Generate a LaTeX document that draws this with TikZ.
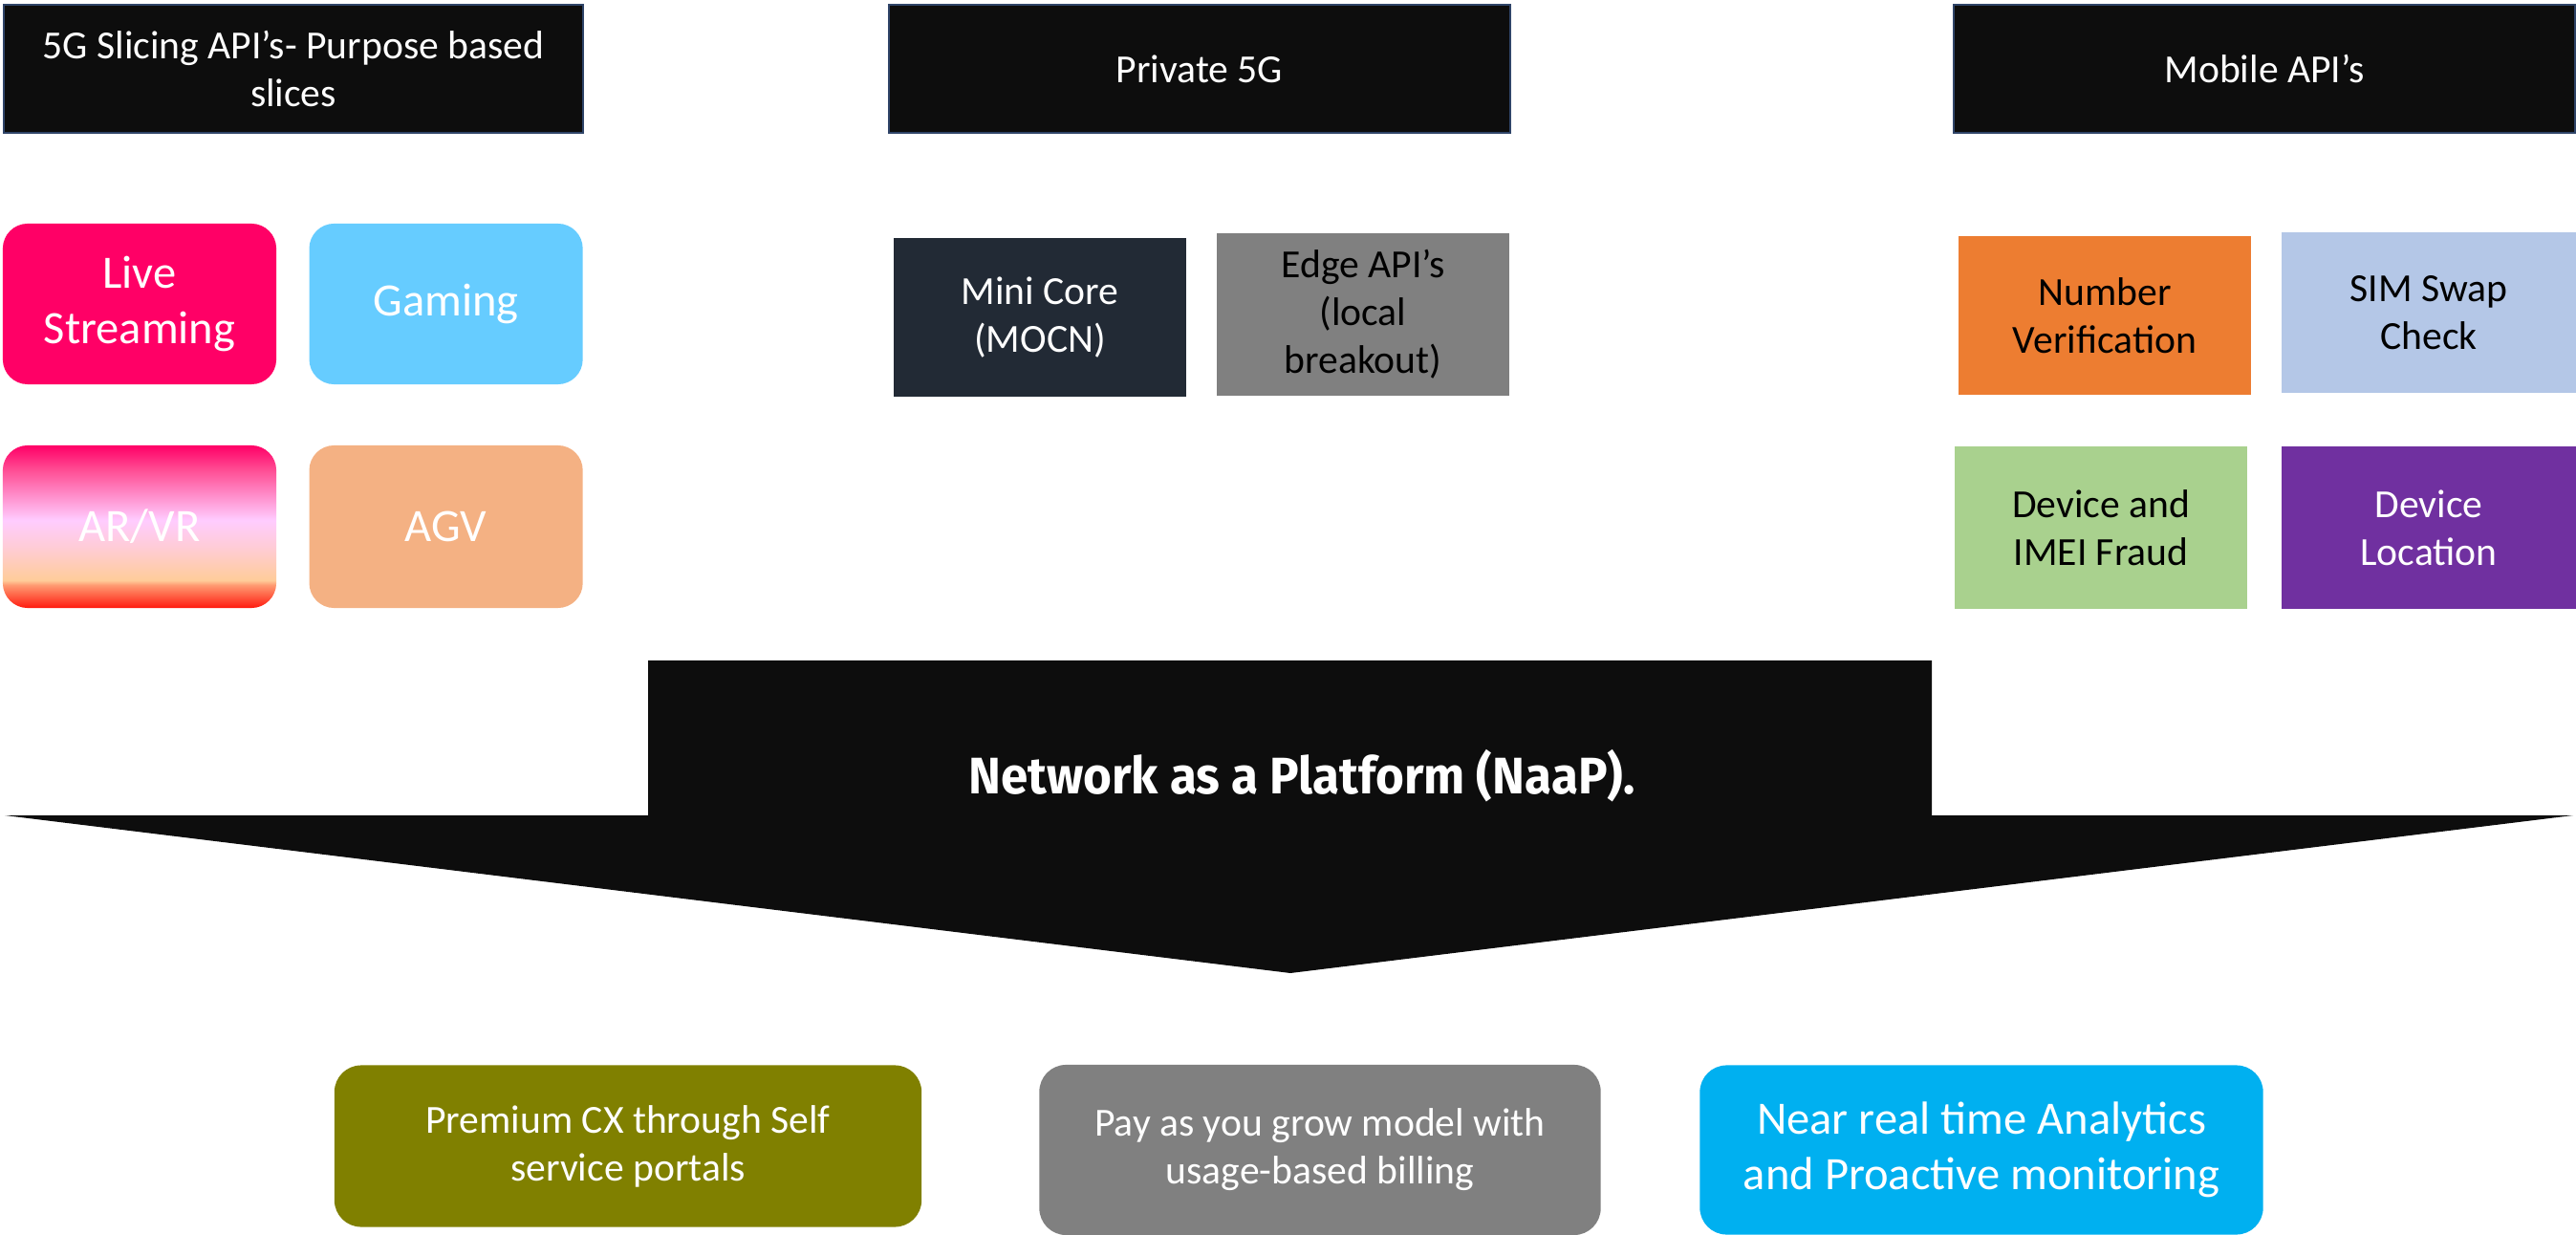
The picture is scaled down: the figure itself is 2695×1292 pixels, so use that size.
\documentclass[tikz,border=0pt]{standalone}
\usepackage{fontspec}
\usepackage{graphicx}
\setmainfont{Carlito}
\newfontfamily\naapfont{Fira Sans}
\usetikzlibrary{positioning}

\definecolor{headerfill}{HTML}{0D0D0D}
\definecolor{headerline}{HTML}{2F4468}
\definecolor{livepink}{HTML}{FF0066}
\definecolor{gamingblue}{HTML}{66CCFF}
\definecolor{agvpeach}{HTML}{F4B183}
\definecolor{corenavy}{HTML}{222A35}
\definecolor{edgegray}{HTML}{808080}
\definecolor{numorange}{HTML}{ED7D31}
\definecolor{simblue}{HTML}{B4C7E7}
\definecolor{fraudgreen}{HTML}{A9D18E}
\definecolor{locpurple}{HTML}{7030A0}
\definecolor{cxolive}{HTML}{808000}
\definecolor{paygray}{HTML}{808080}
\definecolor{nrtcyan}{HTML}{00B0F0}
\definecolor{arvrA}{HTML}{FF1A0F}
\definecolor{arvrB}{HTML}{FF9970}
\definecolor{arvrC}{HTML}{FFCC99}
\definecolor{arvrD}{HTML}{FFCCD5}
\definecolor{arvrE}{HTML}{FFCCFF}
\definecolor{arvrF}{HTML}{FF4D94}
\definecolor{arvrG}{HTML}{FF0066}

\pgfdeclareverticalshading{arvr}{100bp}{
	color(0bp)=(arvrA); color(25bp)=(arvrA); color(32bp)=(arvrB);
	color(33.5bp)=(arvrC); color(43.5bp)=(arvrD); color(52bp)=(arvrE);
	color(67.5bp)=(arvrF); color(75bp)=(arvrG); color(100bp)=(arvrG)}

\tikzstyle{header}=[
	rectangle,
	draw=headerline,
	line width=0.6pt,
	fill=headerfill,
	text=white,
	align=center,
	minimum height=1.34cm,
	font=\fontsize{11.84}{14.2}\selectfont
]
\tikzstyle{slice}=[
	rectangle,
	rounded corners=0.26cm,
	text=white,
	align=center,
	inner sep=0pt,
	minimum width=2.86cm,
	minimum height=1.68cm,
	font=\fontsize{13.8}{16.6}\selectfont
]
\tikzstyle{apibox}=[
	rectangle,
	align=center,
	inner sep=0pt,
	minimum width=3.06cm,
	minimum height=1.67cm,
	font=\fontsize{11.84}{14.2}\selectfont
]
\tikzstyle{benefit}=[
	rectangle,
	rounded corners=0.28cm,
	text=white,
	align=center,
	inner sep=0pt,
	minimum height=1.72cm,
	font=\fontsize{11.84}{14.2}\selectfont
]

\begin{document}
\begin{tikzpicture}[x=0.01cm, y=-0.01cm]
\useasboundingbox (0,0) rectangle (2695,1292);

% headings
\node [header, minimum width=6.05cm] (SlicingHead) at (307,72) {5G Slicing API’s- Purpose based\\slices};
\node [header, minimum width=6.50cm] (PrivateHead) at (1255,72) {Private 5G};
\node [header, minimum width=6.49cm] (MobileHead) at (2369,72) {Mobile API’s};

% slicing
\node [slice, fill=livepink] (LiveStreaming) at (146,318) {Live\\Streaming};
\node [slice, fill=gamingblue] (Gaming) [right=0.33cm of LiveStreaming] {Gaming};
\node [slice, shading=arvr, minimum height=1.70cm] (ARVR) at (146,551) {AR/VR};
\node [slice, fill=agvpeach, minimum height=1.70cm] (AGV) [right=0.33cm of ARVR] {AGV};

% private 5G
\node [apibox, fill=corenavy, text=white, minimum width=3.05cm, minimum height=1.66cm] (MiniCore) at (1088,332) {Mini Core\\(MOCN)};
\node [apibox, fill=edgegray, minimum height=1.70cm] (EdgeAPIs) at (1426,329) {Edge API’s\\(local\\breakout)};

% mobile
\node [apibox, fill=numorange, minimum width=3.05cm, minimum height=1.65cm] (NumberVerif) at (2202,330) {Number\\Verification};
\node [apibox, fill=simblue, minimum width=3.08cm] (SimSwap) at (2541,327) {SIM Swap\\Check};
\node [apibox, fill=fraudgreen, minimum height=1.69cm] (DeviceFraud) at (2198,552) {Device and\\IMEI Fraud};
\node [apibox, fill=locpurple, text=white, minimum width=3.08cm, minimum height=1.69cm] (DeviceLocation) at (2541,552) {Device\\Location};

% platform arrow
\fill [headerfill] (678,691) -- (2021,691) -- (2021,853) -- (2692,853) -- (1350,1018)
	-- (5,853) -- (678,853) -- cycle;
\node [text=white, font=\naapfont\bfseries\fontsize{15.3}{18}\selectfont] (NaaP) at (1362,812)
	{\scalebox{0.95}[1]{Network as a Platform (NaaP).}};

% benefits
\node [benefit, fill=cxolive, minimum width=6.14cm, minimum height=1.69cm] (PremiumCX) at (657,1199) {Premium CX through Self\\service portals};
\node [benefit, fill=paygray, minimum width=5.87cm, minimum height=1.78cm] (PayGrow) at (1381,1203) {Pay as you grow model with\\usage-based billing};
\node [benefit, fill=nrtcyan, minimum width=5.89cm, minimum height=1.77cm, font=\fontsize{13.8}{16.6}\selectfont] (NearRealTime) at (2073,1203) {Near real time Analytics\\and Proactive monitoring};
\end{tikzpicture}
\end{document}
